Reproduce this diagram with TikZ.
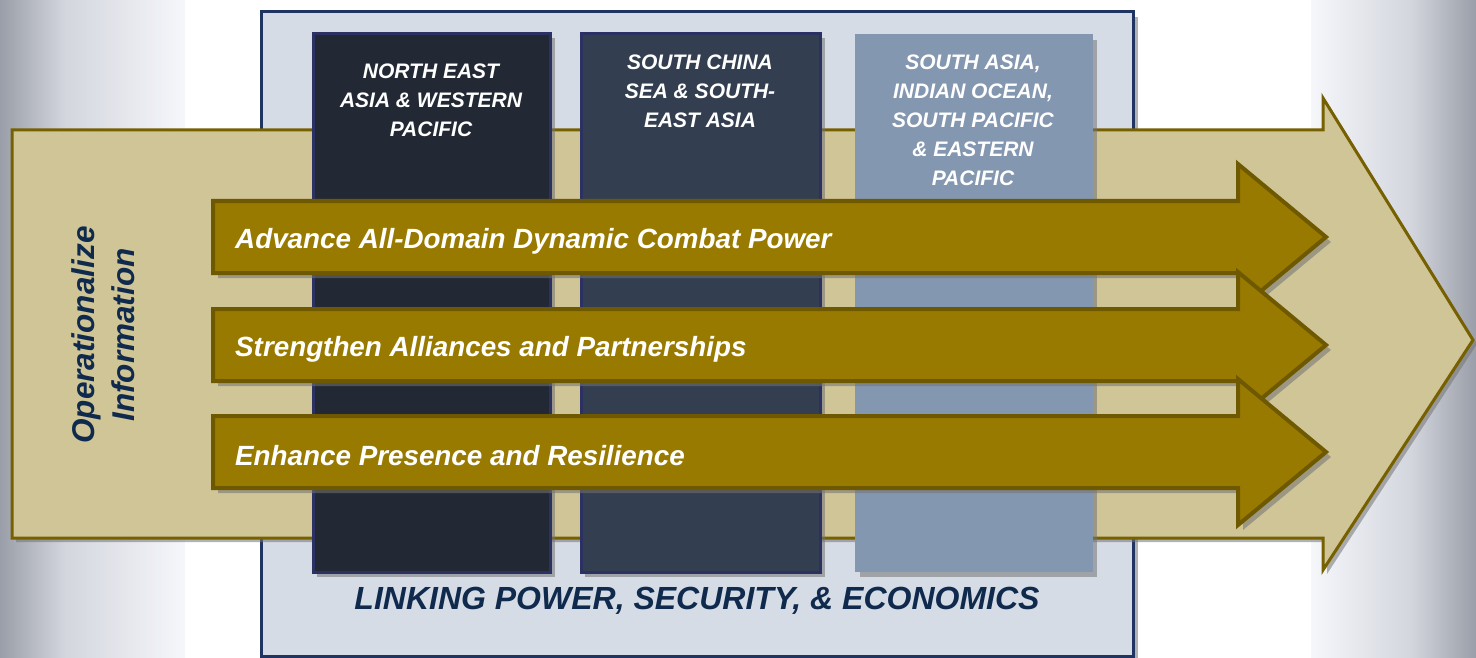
\documentclass[tikz,border=0pt]{standalone}
\usepackage{fontspec}
\setmainfont{Liberation Sans}
\definecolor{tanc}{HTML}{CFC597}
\definecolor{tanline}{HTML}{766000}
\definecolor{goldc}{HTML}{997A00}
\definecolor{goldline}{HTML}{6E5800}
\definecolor{colA}{HTML}{222934}
\definecolor{colB}{HTML}{333F50}
\definecolor{colC}{HTML}{8497B0}
\definecolor{colline}{HTML}{2B3163}
\definecolor{boxc}{HTML}{D6DCE5}
\definecolor{boxline}{HTML}{1F3460}
\definecolor{navytext}{HTML}{0F2A4D}
\definecolor{gradA}{HTML}{9A9EA8}
\definecolor{gradB}{HTML}{D3D6DD}
\definecolor{gradC}{HTML}{F5F7FB}
\tikzset{
  shd/.style={fill=black!55, opacity=0.55},
  bigarrowstyle/.style={fill=tanc, draw=tanline, line width=3pt, line join=miter},
  goldarrowstyle/.style={fill=goldc, draw=goldline, line width=4pt, line join=miter},
  colbox/.style={line width=3pt, draw=colline},
  coltext/.style={text=white, font=\fontsize{21}{29}\selectfont\bfseries\itshape, align=center, inner sep=0pt},
  armtext/.style={text=white, font=\fontsize{27.8}{32}\selectfont\bfseries\itshape, anchor=west, inner sep=0pt},
  garrow/.pic={
    \fill[shd, shift={(5,5)}] (213,-36) -- (1238,-36) -- (1238,-73) -- (1326,0) -- (1238,73) -- (1238,36) -- (213,36) -- cycle;
    \draw[goldarrowstyle] (213,-36) -- (1238,-36) -- (1238,-73) -- (1326,0) -- (1238,73) -- (1238,36) -- (213,36) -- cycle;
  }
}
\begin{document}
\begin{tikzpicture}[x=1pt,y=-1pt]
\useasboundingbox (0,0) rectangle (1476,658);
% background side gradients
\shade[left color=gradA, right color=gradB] (0,0) rectangle (65,658);
\shade[left color=gradB, right color=gradC] (65,0) rectangle (185,658);
\shade[left color=gradC, right color=gradB] (1311,0) rectangle (1411,658);
\shade[left color=gradB, right color=gradA] (1411,0) rectangle (1476,658);
% outer box
\fill[shd] (266,17) rectangle (1138,661);
\draw[fill=boxc, draw=boxline, line width=3pt] (261,12) rectangle (1133,656);
% big arrow
\fill[shd, shift={(4,4)}] (12,130) -- (1323,130) -- (1323,98) -- (1473,340) -- (1323,570) -- (1323,538) -- (12,538) -- cycle;
\draw[bigarrowstyle] (12,130) -- (1323,130) -- (1323,98) -- (1473,340) -- (1323,570) -- (1323,538) -- (12,538) -- cycle;
% columns
\fill[shd] (317,38) rectangle (555,577);
\draw[colbox, fill=colA] (313,34) rectangle (550,572);
\fill[shd] (585,38) rectangle (825,577);
\draw[colbox, fill=colB] (581,34) rectangle (820,572);
\fill[shd] (860,40) rectangle (1097,577);
\fill[colC] (855,34) rectangle (1093,572);
\node[coltext] (c1) at (431,100) {NORTH EAST\\ASIA \& WESTERN\\PACIFIC};
\node[coltext] (c2) at (700,91) {SOUTH CHINA\\SEA \& SOUTH-\\EAST ASIA};
\node[coltext] (c3) at (973,120) {SOUTH ASIA,\\INDIAN OCEAN,\\SOUTH PACIFIC\\\& EASTERN\\PACIFIC};
% gold arrows
\pic at (0,237) {garrow};
\pic at (0,345) {garrow};
\pic at (0,452) {garrow};
\node[armtext] (a1) at (235,241) {Advance All-Domain Dynamic Combat Power};
\node[armtext] (a2) at (235,349) {Strengthen Alliances and Partnerships};
\node[armtext] (a3) at (235,456) {Enhance Presence and Resilience};
% side label
\node[text=navytext, font=\fontsize{31.5}{40}\selectfont\bfseries\itshape, align=center, rotate=90, inner sep=0pt] (op) at (103,335) {Operationalize\\Information};
% bottom label
\node[text=navytext, font=\fontsize{32}{36}\selectfont\bfseries\itshape, inner sep=0pt] (link) at (697,601) {LINKING POWER, SECURITY, \& ECONOMICS};
\end{tikzpicture}
\end{document}
